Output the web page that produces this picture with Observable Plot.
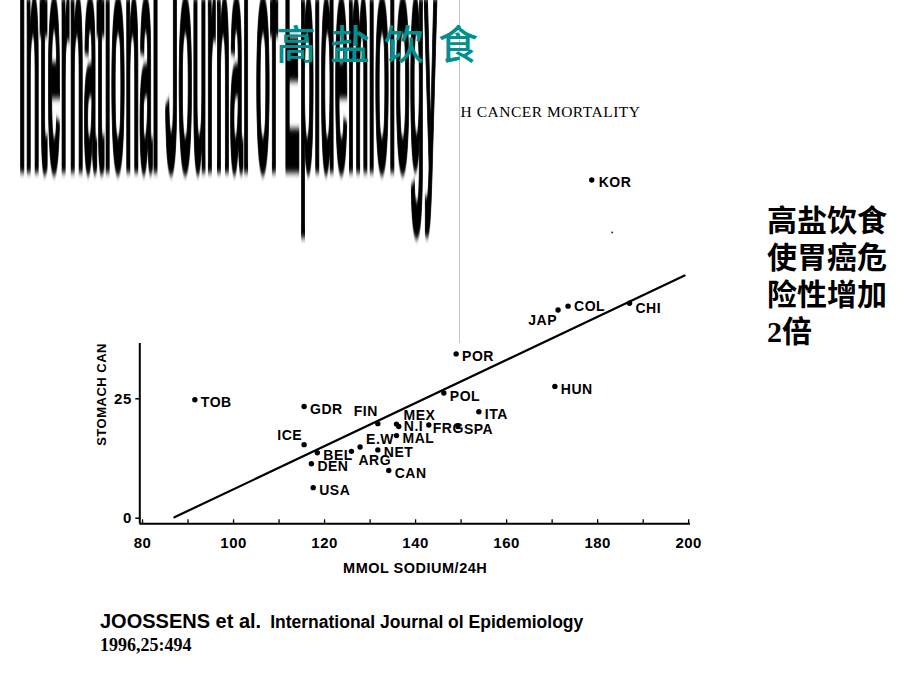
<!DOCTYPE html>
<html>
<head>
<meta charset="utf-8">
<script src="https://cdn.jsdelivr.net/npm/d3@7"></script>
<script src="https://cdn.jsdelivr.net/npm/@observablehq/plot@0.6"></script>
<style>
  html, body { margin: 0; padding: 0; background: #fff; }
  #slide { position: relative; width: 920px; height: 690px; overflow: hidden; background: #fff; }
  #chart { position: absolute; left: 0; top: 0; }
  #mask { position: absolute; left: 0; top: 0; width: 459px; height: 343px; background: #fff; border-right: 1px solid #c4c4c4; overflow: hidden; }
  #mask svg { display: block; }
  #slideTitle { position: absolute; left: 276px; top: 21px; font-family: "Noto Sans CJK SC", sans-serif; font-weight: 500; font-size: 40px; line-height: 42px; letter-spacing: 14px; color: #009090; white-space: nowrap; }
  #note { position: absolute; left: 767px; top: 202px; font-family: "Liberation Serif", "Noto Sans CJK SC", serif; font-weight: bold; font-size: 30px; line-height: 37px; color: #000; }
  #cite { position: absolute; left: 100px; top: 610px; font-family: "Liberation Sans", Arial, sans-serif; font-weight: bold; color: #000; white-space: nowrap; }
  #cite .l1 { line-height: 22px; }
  #cite .l2 { font-family: "Liberation Serif", serif; font-size: 18px; line-height: 23px; }
</style>
</head>
<body>
<div id="slide">
  <div id="chart"></div>
  <div id="mask">
    <svg width="459" height="343" xmlns="http://www.w3.org/2000/svg">
      <defs><filter id="soft" x="-5%" y="-20%" width="110%" height="140%"><feGaussianBlur stdDeviation="0.6 3"/></filter></defs>
      <g filter="url(#soft)">
        <text transform="translate(19,168) scale(1,13.6)" font-family="Liberation Sans, Arial, sans-serif" font-weight="bold" font-size="23" textLength="418" lengthAdjust="spacingAndGlyphs" fill="#000" stroke="#000" stroke-width="0.7">International Journal of Epidemiology</text>
      </g>
    </svg>
  </div>
  <div id="slideTitle">高盐饮食</div>
  <div id="note">高盐饮食<br>使胃癌危<br>险性增加<br>2倍</div>
  <div id="cite">
    <div class="l1"><span style="font-size:20px">JOOSSENS et al.</span><span style="font-size:17.5px; margin-left:9px">International Journal ol Epidemiology</span></div>
    <div class="l2">1996,25:494</div>
  </div>
</div>
<script>
// ---- data ----
const countries = ["TOB","GDR","FIN","ICE","BEL","DEN","USA","ARG","E.W","NET","CAN","MAL","MEX","N.I","FRG","SPA","ITA","POL","POR","HUN","JAP","COL","CHI","KOR"];
const sodium    = [91.5, 115.5, 131.7, 115.5, 118.4, 117.1, 117.5, 125.9, 127.8, 131.7, 134.1, 135.8, 135.8, 136.3, 142.9, 149.3, 153.9, 146.2, 148.9, 170.6, 171.3, 173.5, 187.0, 178.7];
const mortality = [24.8, 23.4, 19.8, 15.4, 13.7, 11.4, 6.4, 14.0, 14.9, 14.3, 10.0, 17.3, 19.7, 19.2, 19.5, 19.2, 22.3, 26.2, 34.4, 27.6, 43.6, 44.4, 45.0, 70.8];
const regressionSodium = [87.0, 199.1];
const regressionMortality = [0.2, 50.8];
const speckSodium = [183.2];
const speckMortality = [59.8];
const xTicks = [80, 100, 120, 140, 160, 180, 200];
const xMinorTicks = [80, 90, 100, 110, 120, 130, 140, 150, 160, 170, 180, 190, 200];
const yTicks = [0, 25];
const xDomain = [79.4, 200.4];
const yDomain = [-1.17, 80];
const chartTitle = "STOMACH CANCER MORTALITY";
const xTitle = "MMOL SODIUM/24H";
const yTitle = "STOMACH CANCER MORTALITY";

// ---- label placement (style config) ----
const placement = {
  FIN: {dx: 0, dy: -12, anchor: "end"},
  ICE: {dx: -2, dy: -9, anchor: "end"},
  JAP: {dx: -1, dy: 11, anchor: "end"},
  MEX: {dx: 7, dy: -9, anchor: "start"},
  "E.W": {dx: 6, dy: -8, anchor: "start"},
  ARG: {dx: 7, dy: 9, anchor: "start"},
  COL: {dx: 6, dy: 0, anchor: "start"},
  CHI: {dx: 6, dy: 5, anchor: "start"},
  KOR: {dx: 7, dy: 2, anchor: "start"},
  "N.I": {dx: 5, dy: 0, anchor: "start"},
  FRG: {dx: 4, dy: 3, anchor: "start"}
};
const defaultPlacement = {dx: 6, dy: 3, anchor: "start"};

const points = countries.map((c, i) => ({country: c, sodium: sodium[i], mortality: mortality[i]}));
const regression = regressionSodium.map((s, i) => ({sodium: s, mortality: regressionMortality[i]}));
const specks = speckSodium.map((s, i) => ({sodium: s, mortality: speckMortality[i]}));

const sansBold = {fontFamily: "Liberation Sans, Arial, sans-serif", fontWeight: "bold"};
const labelMarks = points.map(p => {
  const pl = placement[p.country] || defaultPlacement;
  return Plot.text([p], {x: "sodium", y: "mortality", text: "country", dx: pl.dx, dy: pl.dy, textAnchor: pl.anchor, fontSize: 14, fill: "#000", ...sansBold});
});

const W = 920, H = 690;
const chart = Plot.plot({
  width: W,
  height: H,
  marginLeft: 139.3,
  marginRight: 230,
  marginTop: 135.6,
  marginBottom: 166.7,
  style: {background: "transparent", fontFamily: "Liberation Sans, Arial, sans-serif", fontWeight: "bold", fontSize: "14px", color: "#000", letterSpacing: "0.5px"},
  x: {domain: xDomain},
  y: {domain: yDomain},
  marks: [
    Plot.ruleY([yDomain[0]], {stroke: "#000", strokeWidth: 2}),
    Plot.ruleX([xDomain[0]], {stroke: "#000", strokeWidth: 2}),
    Plot.axisX({ticks: xMinorTicks, tickSize: -4, text: null, label: null, strokeWidth: 1.3}),
    Plot.axisX({ticks: xTicks, tickSize: 0, tickPadding: 14, label: null, fontSize: 15, ...sansBold}),
    Plot.axisY({ticks: yTicks, tickSize: 4, tickPadding: 4, label: null, fontSize: 15, ...sansBold, strokeWidth: 1.5}),
    Plot.text([xTitle], {frameAnchor: "bottom", dy: 45, lineAnchor: "middle", text: d => d, fontSize: 14.5, ...sansBold}),
    Plot.text([yTitle], {frameAnchor: "bottom-left", dx: -38, dy: -78, lineAnchor: "middle", rotate: -90, textAnchor: "start", text: d => d, fontSize: 13, ...sansBold}),
    Plot.text([chartTitle], {frameAnchor: "top-right", dx: -50, dy: -23.6, lineAnchor: "middle", textAnchor: "end", text: d => d, fontSize: 15.5, fontWeight: "normal", fontFamily: "Liberation Serif, serif", fill: "#000"}),
    Plot.line(regression, {x: "sodium", y: "mortality", stroke: "#000", strokeWidth: 2.2}),
    Plot.dot(points, {x: "sodium", y: "mortality", r: 2.7, fill: "#000"}),
    Plot.dot(specks, {x: "sodium", y: "mortality", r: 1, fill: "#333"}),
    ...labelMarks
  ]
});
document.getElementById("chart").appendChild(chart);
</script>
</body>
</html>
